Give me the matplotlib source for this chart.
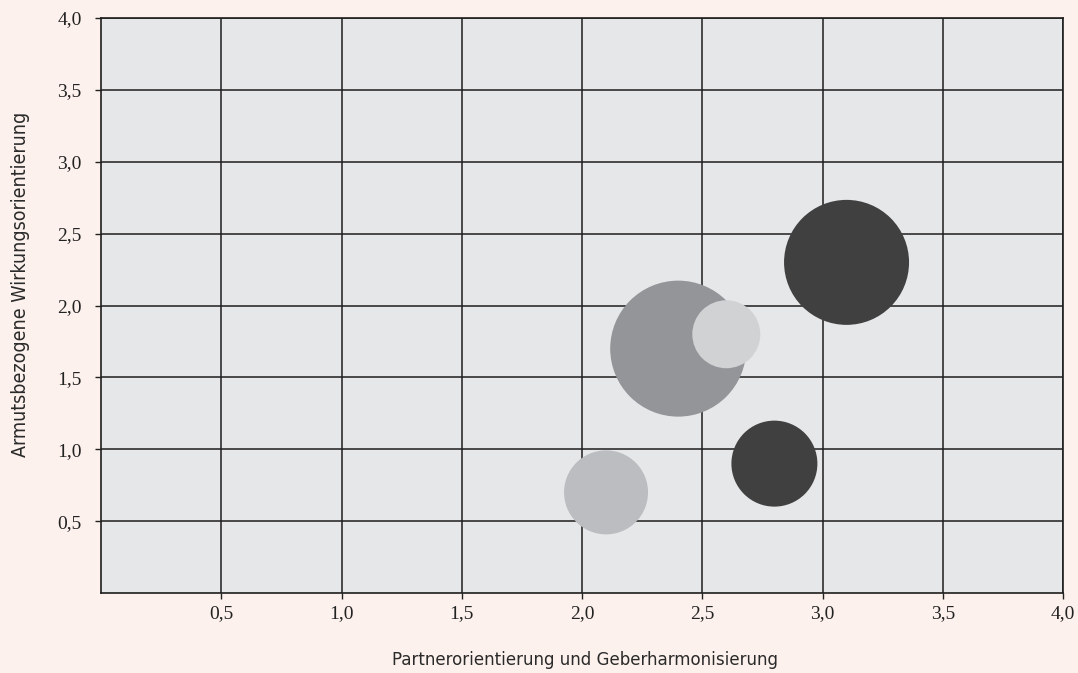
import numpy as np
import matplotlib.pyplot as plt

# bubble data: x = Partnerorientierung, y = Wirkungsorientierung, d = bubble diameter (px)
x_vals = [3.1, 2.4, 2.6, 2.8, 2.1]
y_vals = [2.3, 1.7, 1.8, 0.9, 0.7]
diam = [125, 136, 68, 86, 84]
colors = ['#404040', '#949598', '#d1d2d4', '#404040', '#bcbdc0']

ticks = [0.5, 1.0, 1.5, 2.0, 2.5, 3.0, 3.5, 4.0]
tick_labels = ['0,5', '1,0', '1,5', '2,0', '2,5', '3,0', '3,5', '4,0']

fig = plt.figure(figsize=(10.78, 6.73), dpi=100)
fig.patch.set_facecolor('#fcf1ec')
ax = fig.add_axes([101/1078, 80/673, 962/1078, 575/673])
ax.set_facecolor('#e6e7e9')

# diameter in px -> marker area in pt^2
s = [(d * 0.72) ** 2 for d in diam]
ax.scatter(x_vals, y_vals, s=s, c=colors, linewidths=0, zorder=3)

ax.set_xlim(0, 4)
ax.set_ylim(0, 4)
ax.set_xticks(ticks)
ax.set_yticks(ticks)
ax.set_xticklabels(tick_labels, family='Liberation Serif')
ax.set_yticklabels(tick_labels, family='Liberation Serif')
ax.tick_params(length=4, width=1, color='#222222', labelsize=14, labelcolor='#222222')
ax.tick_params(axis='x', pad=5)
ax.tick_params(axis='y', pad=10)

ax.grid(color='#1e1e1e', lw=1.1, zorder=1)
ax.set_axisbelow(True)
for sp in ax.spines.values():
    sp.set_color('#1e1e1e')
    sp.set_linewidth(1.2)

ax.set_xlabel('Partnerorientierung und Geberharmonisierung', family='DejaVu Sans',
              fontstretch='condensed', fontsize=13.3, color='#2a2a2a')
ax.set_ylabel('Armutsbezogene Wirkungsorientierung', family='DejaVu Sans',
              fontstretch='condensed', fontsize=14, color='#2a2a2a')
ax.xaxis.set_label_coords(0.503, -0.117)
ax.yaxis.set_label_coords(-0.084, 0.537)
ax.xaxis.label.set_va('center')
ax.yaxis.label.set_va('center')

plt.savefig('out.png', dpi=100, facecolor=fig.get_facecolor())
